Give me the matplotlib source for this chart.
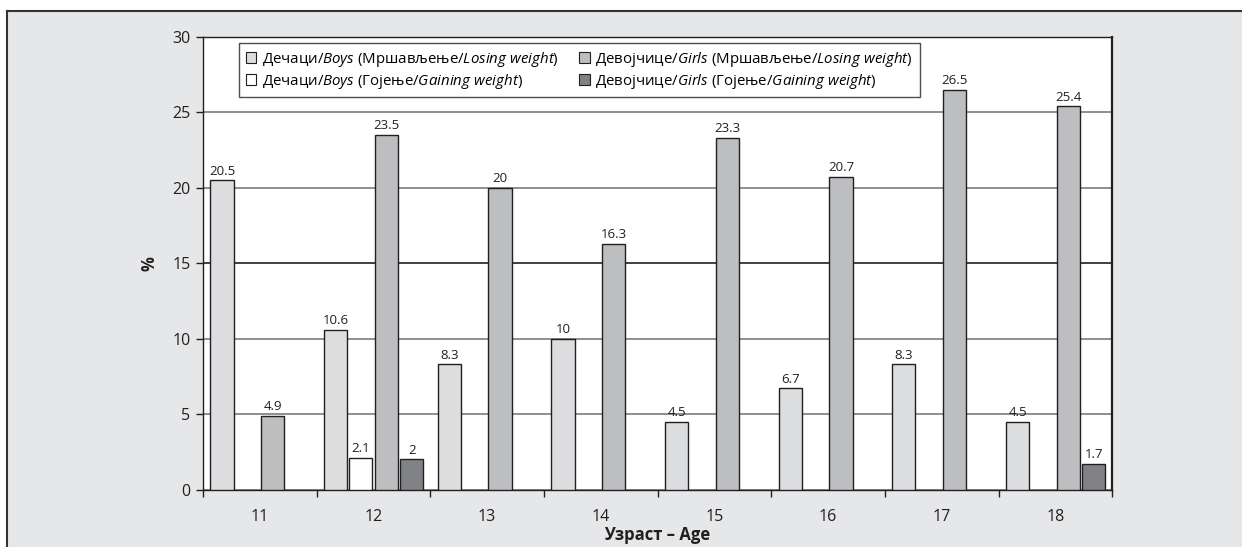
import numpy as np
import matplotlib
matplotlib.use('Agg')
import matplotlib.pyplot as plt
from matplotlib.patches import Rectangle
from matplotlib.lines import Line2D

plt.rcParams['font.family'] = ['Open Sans', 'DejaVu Sans']
plt.rcParams['mathtext.fontset'] = 'custom'
plt.rcParams['mathtext.rm'] = 'Open Sans'
plt.rcParams['mathtext.it'] = 'Open Sans:italic'

# podaci
ages = ['11', '12', '13', '14', '15', '16', '17', '18']
boys_losing = [20.5, 10.6, 8.3, 10, 4.5, 6.7, 8.3, 4.5]
boys_gaining = [0, 2.1, 0, 0, 0, 0, 0, 0]
girls_losing = [4.9, 23.5, 20, 16.3, 23.3, 20.7, 26.5, 25.4]
girls_gaining = [0, 2, 0, 0, 0, 0, 0, 1.7]

series_labels = [
    r'Дечаци/$\mathit{Boys}$ (Мршављење/$\mathit{Losing\ weight}$)',
    r'Дечаци/$\mathit{Boys}$ (Гојење/$\mathit{Gaining\ weight}$)',
    r'Девојчице/$\mathit{Girls}$ (Мршављење/$\mathit{Losing\ weight}$)',
    r'Девојчице/$\mathit{Girls}$ (Гојење/$\mathit{Gaining\ weight}$)',
]
colors = ['#dcdddf', '#ffffff', '#bcbec0', '#808285']
edge = '#231f20'
bg = '#e6e7e8'

fig = plt.figure(figsize=(12.42, 5.47), dpi=100, facecolor='white')
W, H = 1242, 547
fig.patches.append(Rectangle((7 / W, 0), 1 - 7 / W, 1 - 11 / H, transform=fig.transFigure,
                             facecolor=bg, edgecolor='none', zorder=-10))
fig.lines.append(Line2D([7 / W, 1], [1 - 11 / H, 1 - 11 / H], transform=fig.transFigure,
                        color='#333333', lw=1.5, zorder=-5))
fig.lines.append(Line2D([7 / W, 7 / W], [0, 1 - 11 / H], transform=fig.transFigure,
                        color='#333333', lw=1.5, zorder=-5))

ax = fig.add_axes([203 / W, 1 - 489.5 / H, (1112.3 - 203) / W, (489.5 - 37) / H])
ax.set_facecolor('white')

x = np.arange(len(ages))
offsets = [-0.333, -0.111, 0.113, 0.336]
width = 0.203
all_series = [boys_losing, boys_gaining, girls_losing, girls_gaining]

for vals, off, col, lab in zip(all_series, offsets, colors, series_labels):
    v = np.array(vals, dtype=float)
    h = np.where(v > 0, v, np.nan)
    bars = ax.bar(x + off, h, width, color=col, edgecolor=edge, linewidth=1.0,
                  label=lab, zorder=3)
    ax.bar_label(bars, labels=[f'{a:g}' if a > 0 else '' for a in v],
                 padding=2, fontsize=9.5, color=edge)

ax.set_xlim(-0.5, len(ages) - 0.5)
ax.set_ylim(0, 30)
ax.set_yticks(np.arange(0, 31, 5))
ax.set_xticks(x)
ax.set_xticklabels(ages)
ax.set_xticks(np.arange(-0.5, len(ages), 1), minor=True)
ax.tick_params(axis='x', which='major', length=0, pad=14, labelsize=11.5, labelcolor=edge)
ax.tick_params(axis='x', which='minor', length=5, width=1, color=edge, direction='out')
ax.tick_params(axis='y', length=5, width=1, color=edge, labelsize=11.5, labelcolor=edge, pad=4)

ax.grid(axis='y', color='#7a7b7d', lw=1.2, zorder=1)
ax.get_ygridlines()[3].set_color('#231f20')
ax.set_axisbelow(True)
for sp in ax.spines.values():
    sp.set_color(edge)
    sp.set_linewidth(1.0)
ax.spines['right'].set_linewidth(1.6)

ax.set_ylabel('%', fontsize=12, fontweight='bold', labelpad=10, color=edge)
ax.set_xlabel('Узраст – Age', fontsize=12, fontweight='bold', labelpad=1, color=edge)

leg = ax.legend(ncol=2, loc='upper left', bbox_to_anchor=(36 / 909.3, 1 - 6 / 452.5),
                borderaxespad=0, fontsize=10.8, frameon=True, fancybox=False, shadow=False,
                handlelength=0.7, handleheight=0.7, handletextpad=0.35,
                columnspacing=1.4, labelspacing=0.2, borderpad=0.45)
leg.get_frame().set_edgecolor(edge)
leg.get_frame().set_linewidth(1.0)
for p in leg.get_patches():
    p.set_linewidth(0.8)

plt.savefig('out.png', dpi=100, facecolor=fig.get_facecolor())
